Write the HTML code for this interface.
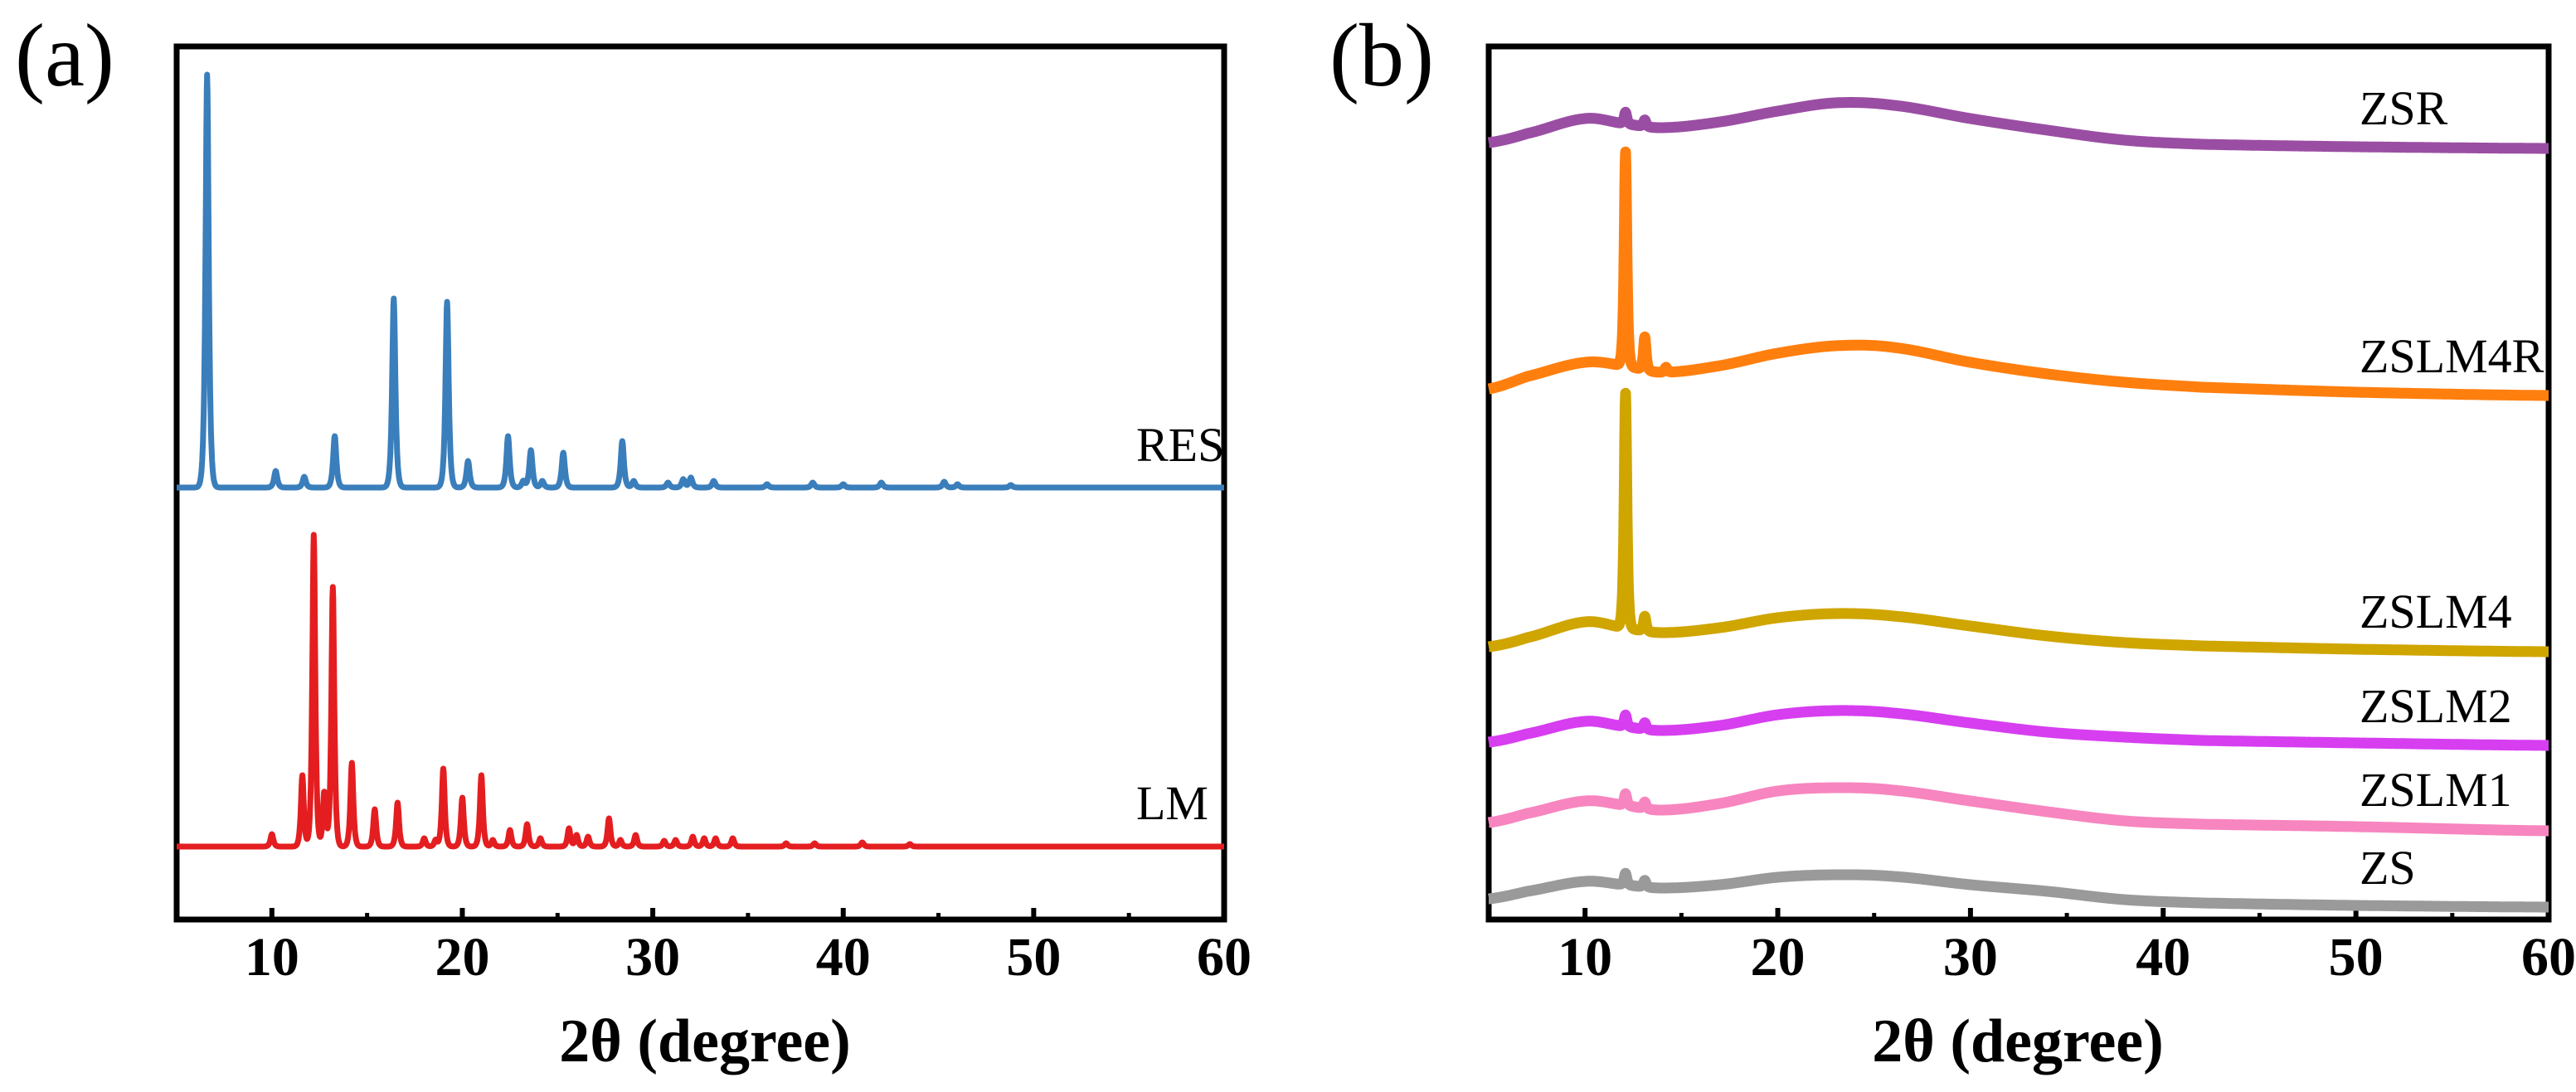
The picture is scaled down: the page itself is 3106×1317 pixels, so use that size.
<!DOCTYPE html>
<html><head><meta charset="utf-8"><style>
html,body{margin:0;padding:0;background:#fff;}
svg{display:block;}
text{font-family:"Liberation Serif","DejaVu Serif",serif;}
</style></head><body>
<svg id="fig" width="3106" height="1317" viewBox="0 0 3106 1317" xmlns="http://www.w3.org/2000/svg">
<rect width="3106" height="1317" fill="#fff"/>
<g id="pa"></g>
<g id="pb"></g>
</svg>
<script>
// ---- data ----
const xTicks = [10,20,30,40,50,60];
const xMinorTicks = [5,15,25,35,45,55];
const resBaseline = 521;
const resPeaks = [[6.6,498],[10.2,20],[11.7,13],[13.3,62],[16.4,228],[19.2,224],[20.3,32],[22.4,62],[23.2,8],[23.6,45],[24.2,8],[25.3,42],[28.4,56],[29.0,8],[30.8,6],[31.6,10],[32.0,12],[33.2,8],[36,4],[38.4,6],[40,4],[42,6],[45.3,7],[46,4],[48.8,3]];
const lmBaseline = 88;
const lmPeaks = [[10.0,15],[11.6,86],[12.2,376],[12.75,66],[13.2,313],[14.2,101],[15.4,45],[16.6,53],[18.0,10],[18.6,8],[19.0,94],[20.0,59],[21.0,86],[21.6,8],[22.5,20],[23.4,27],[24.1,10],[25.6,22],[26.0,14],[26.6,12],[27.7,34],[28.3,8],[29.1,14],[30.6,7],[31.2,8],[32.1,12],[32.7,10],[33.3,10],[34.2,10],[37,4],[38.5,4],[41,5],[43.5,3]];
const bX = [5,7,10,12,14,17,20,23,26,30,34,38,42,50,60];
const zsrY = [937,948,966,960,955,962,975,985,982,966,952,940,935,932,930];
const zslm4rY = [640,655,672,668,660,668,683,692,690,672,658,648,642,636,632];
const zslm4Y = [329,340,359,352,346,352,364,369,366,354,342,334,330,326,323];
const zslm2Y = [214,224,239,233,228,234,247,252,249,237,226,220,216,213,210];
const zslm1Y = [117,128,143,138,132,140,155,159,156,143,130,119,115,112,107];
const zsY = [25,34,46,42,38,42,51,54,52,42,34,24,20,17,15];
const zsPeaks = [[12.1,14],[13.1,8]];
const zslm4rPeaks = [[12.1,258],[13.1,40],[14.2,6]];
const zslm4Peaks = [[12.1,283],[13.1,18]];
const bLabels = ["ZSR","ZSLM4R","ZSLM4","ZSLM2","ZSLM1","ZS"];

const NS="http://www.w3.org/2000/svg";
const SERIF='"Liberation Serif","DejaVu Serif",serif';
function mk(tag,attrs,parent){const e=document.createElementNS(NS,tag);for(const k in attrs)e.setAttribute(k,attrs[k]);parent.appendChild(e);return e;}

function panel(g,L,R,T,B,label,labelX,titleX){
  const sx=x=>L+(x-5)*(R-L)/55, sy=v=>B-v;
  let f=mk('rect',{x:L,y:T,width:R-L,height:B-T,fill:'none',stroke:'#000','stroke-width':7},g);
  
  
  xTicks.forEach(t=>{
    let l=mk('line',{x1:sx(t),x2:sx(t),y1:B,y2:B-14,stroke:'#000','stroke-width':6},g);
    
    
    let tx=mk('text',{x:sx(t),y:B+67,'text-anchor':'middle','font-size':66,'font-weight':'bold','font-family':SERIF},g);
    tx.textContent=t;
    
    
  });
  xMinorTicks.forEach(t=>{
    if(t<=5)return;
    let l=mk('line',{x1:sx(t),x2:sx(t),y1:B,y2:B-8,stroke:'#000','stroke-width':5},g);
    
    
  });
  let tt=mk('text',{x:titleX,y:1280,'text-anchor':'middle','font-size':74,'font-weight':'bold','font-family':SERIF},g);
  tt.textContent='2θ (degree)';
  
  
  let pl=mk('text',{x:labelX,y:103,'font-size':108,'font-family':SERIF},g);
  pl.textContent=label;
  
  
  return {sx,sy};
}

function peakSum(x,peaks,w){let s=0;for(const p of peaks){const d=(x-p[0])/w;s+=p[1]/(1+d*d)*Math.exp(-d*d*0.15);}return s;}
function interp(x,xs,ys){
  const n=xs.length;
  for(let i=0;i<n-1;i++){
    if(x<=xs[i+1]){
      const t=(x-xs[i])/(xs[i+1]-xs[i]);
      const p0=ys[Math.max(0,i-1)],p1=ys[i],p2=ys[i+1],p3=ys[Math.min(n-1,i+2)];
      const t2=t*t,t3=t2*t;
      return 0.5*((2*p1)+(-p0+p2)*t+(2*p0-5*p1+4*p2-p3)*t2+(-p0+3*p1-3*p2+p3)*t3);
    }
  }
  return ys[n-1];
}

function drawSeries(g,ax,fn,color,w,name){
  let d='';
  for(let x=5;x<=60.0001;x+=0.02){const v=fn(x);d+=(d?'L':'M')+ax.sx(x).toFixed(1)+','+ax.sy(v).toFixed(1);}
  const p=mk('path',{d,fill:'none',stroke:color,'stroke-width':w,'stroke-linejoin':'round'},g);
  
  
}
function lab(g,x,y,txt,name){
  const t=mk('text',{x,y,'font-size':58,'font-family':SERIF},g);t.textContent=txt;
  
  
}

const pa=document.getElementById('pa'), pb=document.getElementById('pb');
const A=panel(pa,213,1476,56,1109,'(a)',18,850);
drawSeries(pa,A,x=>resBaseline+peakSum(x,resPeaks,0.11),'#3a7ebb',7,'res-line');
drawSeries(pa,A,x=>lmBaseline+peakSum(x,lmPeaks,0.1),'#e41e20',7,'lm-line');
lab(pa,1370,556,'RES','res-label');
lab(pa,1370,988,'LM','lm-label');

const Bx=panel(pb,1795,3073,56,1109,'(b)',1603,2433);
const bSeries=[[zsrY,zsPeaks,'#9a4ea3','zsr-line'],[zslm4rY,zslm4rPeaks,'#ff7f0e','zslm4r-line'],[zslm4Y,zslm4Peaks,'#cfa500','zslm4-line'],[zslm2Y,zsPeaks,'#d63ef0','zslm2-line'],[zslm1Y,zsPeaks,'#f785bf','zslm1-line'],[zsY,zsPeaks,'#9a9a9a','zs-line']];
bSeries.forEach(s=>drawSeries(pb,Bx,x=>interp(x,bX,s[0])+peakSum(x,s[1],0.09),s[2],13,s[3]));
const bLabelY=[150,449,757,871,972,1066];
bLabels.forEach((t,i)=>lab(pb,2845,bLabelY[i],t,t.toLowerCase()+'-label'));
</script>
</body></html>
